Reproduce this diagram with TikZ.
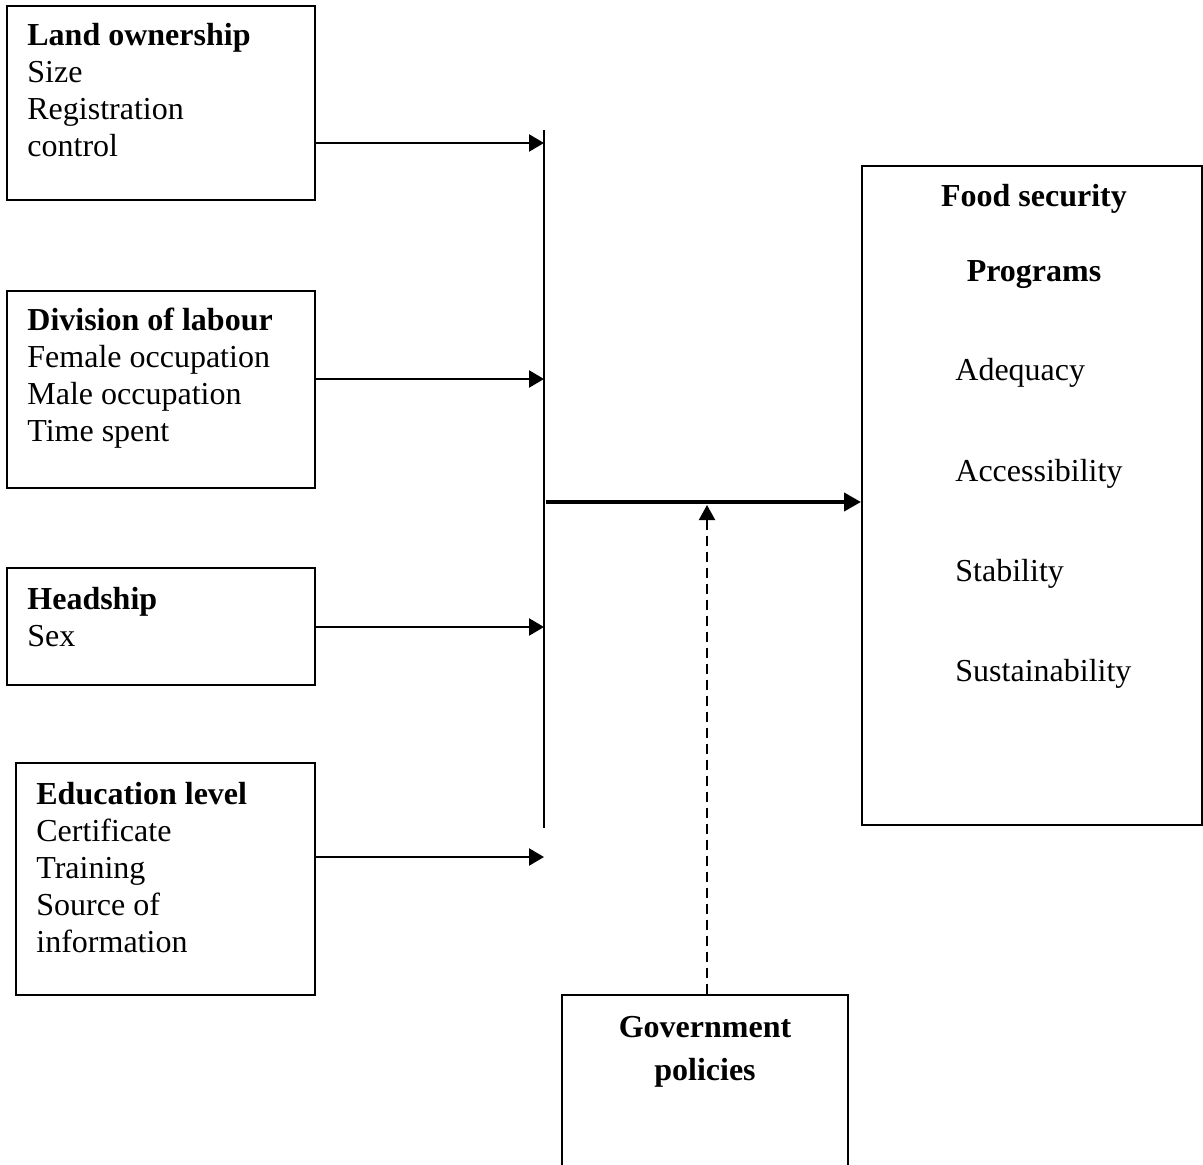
\documentclass[tikz,border=0pt]{standalone}
\usepackage{fontspec}
\setmainfont{Liberation Serif}
\usetikzlibrary{arrows.meta}
\begin{document}
\begin{tikzpicture}[x=0.5pt,y=-0.5pt,
  box/.style={draw,line width=1pt,rectangle,inner sep=0pt},
  txt/.style={inner sep=0pt,align=left,anchor=base west,font=\fontsize{16}{18.5}\selectfont},
  ctxt/.style={inner sep=0pt,align=center,anchor=base,font=\fontsize{16}{18.5}\selectfont\bfseries},
  arr/.style={line width=1.2pt,-{Triangle[length=7.5pt,width=8.5pt]}},
  thickarr/.style={line width=2pt,-{Triangle[length=8.5pt,width=9pt]}},
  dasharr/.style={line width=1pt,dash pattern=on 5pt off 3pt,-{Triangle[length=7.5pt,width=8pt]}}]
\useasboundingbox (0,0) rectangle (1203,1165);
\clip (0,0) rectangle (1203,1165);
% boxes
\node[box,minimum width=154pt,minimum height=97pt] (land) at (161,103) {};
\node[box,minimum width=154pt,minimum height=98.5pt] (div) at (161,389.5) {};
\node[box,minimum width=154pt,minimum height=58.5pt] (head) at (161,626.5) {};
\node[box,minimum width=149.5pt,minimum height=116pt] (edu) at (165.5,879) {};
\node[box,minimum width=170pt,minimum height=329.5pt] (food) at (1032,495.5) {};
\node[box,minimum width=143pt,minimum height=110pt] (gov) at (705,1105) {};
% texts (anchored at the baseline of the last line)
\node[txt] (landt) at (27,157) {\textbf{Land ownership}\\Size\\Registration\\control};
\node[txt] (divt) at (27,442) {\textbf{Division of labour}\\Female occupation\\Male occupation\\Time spent};
\node[txt] (headt) at (27,646) {\textbf{Headship}\\Sex};
\node[txt] (edut) at (36,952) {\textbf{Education level}\\Certificate\\Training\\Source of\\information};
\node[ctxt] (foodt1) at (1034,207) {Food security};
\node[ctxt] (foodt2) at (1034,282) {Programs};
\node[txt] (fa) at (955,381) {Adequacy};
\node[txt] (fb) at (955,481) {Accessibility};
\node[txt] (fc) at (955,581) {Stability};
\node[txt] (fd) at (955,681) {Sustainability};
\node[ctxt] (govt) at (705,1080) {Government\\[3pt]policies};
% bar
\coordinate (bartop) at (544,130);
\coordinate (barbot) at (544,828);
\coordinate (barmid) at (546,502);
\coordinate (j) at (707,505);
\draw[line width=1pt] (bartop) -- (barbot);
% arrows
\draw[arr] (land.east |- 0,143) -- (bartop |- 0,143);
\draw[arr] (div.east |- 0,379) -- (bartop |- 0,379);
\draw[arr] (head.east |- 0,627) -- (bartop |- 0,627);
\draw[arr] (edu.east |- 0,857) -- (bartop |- 0,857);
\draw[thickarr] (barmid) -- (food.west |- barmid);
\draw[dasharr] (gov.north -| j) -- (j);
\end{tikzpicture}
\end{document}
